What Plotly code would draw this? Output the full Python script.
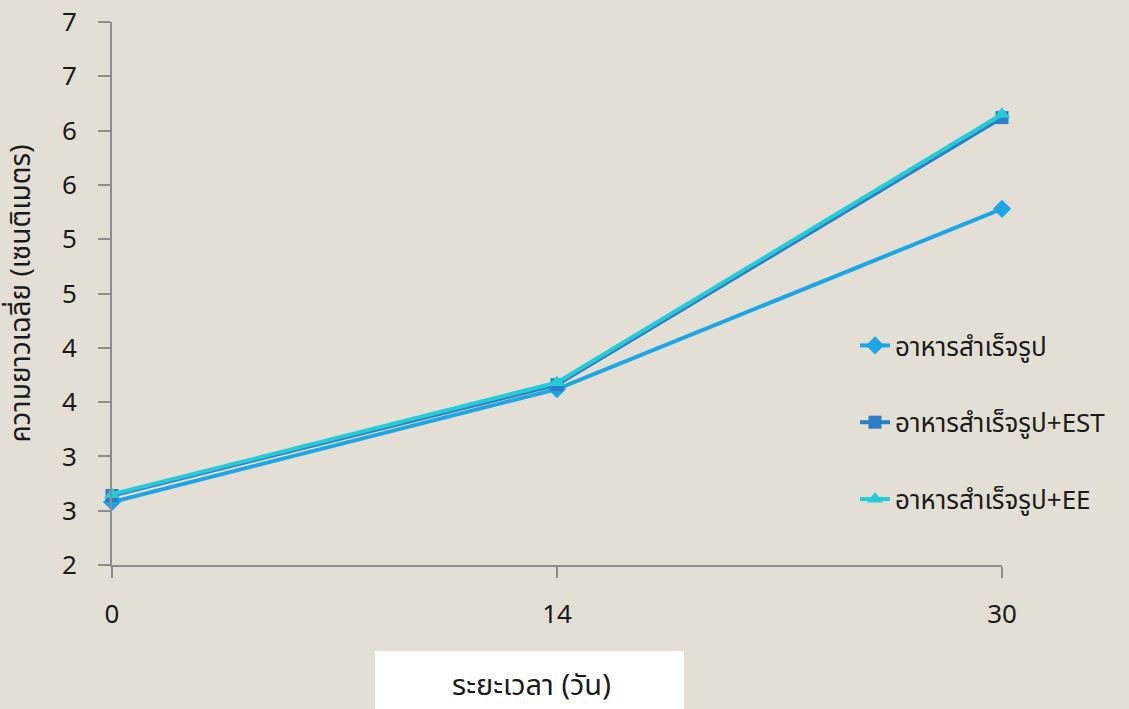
import plotly.graph_objects as go

# Days of rearing and mean length (cm) for each feed
days = ["0", "14", "30"]
feed_ready = [2.58, 3.62, 5.28]
feed_est = [2.64, 3.66, 6.12]
feed_ee = [2.65, 3.68, 6.15]

series_names = ["อาหารสำเร็จรูป", "อาหารสำเร็จรูป+EST", "อาหารสำเร็จรูป+EE"]
series_values = [feed_ready, feed_est, feed_ee]
series_colors = ["#1DA6E6", "#2A7EC6", "#26CBD8"]
series_symbols = ["diamond", "square", "triangle-up"]
series_sizes = [14, 13, 14]

y_ticks = [2, 2.5, 3, 3.5, 4, 4.5, 5, 5.5, 6, 6.5, 7]
y_ticklabels = ["2", "3", "3", "4", "4", "5", "5", "6", "6", "7", "7"]

FONT = "Noto Sans Thai, Tahoma, Noto Sans, sans-serif"
BG = "#E4DFD4"
INK = "#1a1a1a"

fig = go.Figure()
x_pos = list(range(len(days)))
for i, (name, vals) in enumerate(zip(series_names, series_values)):
    fig.add_trace(go.Scatter(
        x=x_pos, y=vals, name=name, mode="lines+markers",
        line=dict(color=series_colors[i], width=4),
        marker=dict(symbol=series_symbols[i], size=series_sizes[i],
                    color=series_colors[i]),
        cliponaxis=False, legendgroup=f"g{i}",
    ))

# white panel behind the x-axis title
fig.add_shape(type="rect", xref="paper", yref="paper",
              x0=(375 - 112) / 890, x1=(684 - 112) / 890,
              y0=-(712 - 565) / 543, y1=-(651 - 565) / 543,
              fillcolor="white", line=dict(width=0), layer="below")
fig.add_annotation(text="ระยะเวลา (วัน)", xref="paper", yref="paper",
                   x=(531 - 112) / 890, y=-(686 - 565) / 543,
                   xanchor="center", yanchor="middle",
                   showarrow=False, font=dict(size=29, color=INK, family=FONT))

fig.update_layout(
    width=1129, height=709,
    margin=dict(l=112, r=127, t=22, b=144, autoexpand=False),
    paper_bgcolor=BG, plot_bgcolor=BG,
    font=dict(family=FONT, size=26, color=INK),
    showlegend=True,
    legend=dict(x=(855 - 112) / 890, y=(565 - 322) / 543, xanchor="left", yanchor="top",
                bgcolor="rgba(0,0,0,0)", tracegroupgap=40,
                font=dict(size=26, family=FONT, color=INK)),
    xaxis=dict(range=[0, 2], tickvals=x_pos, ticktext=days, automargin=False,
               showgrid=False, zeroline=False, showline=True,
               linecolor="#8c8c8c", linewidth=2,
               ticks="outside", ticklen=11, tickwidth=2, tickcolor="#8c8c8c",
               ticklabelstandoff=14, tickfont=dict(size=26)),
    yaxis=dict(range=[2, 7], tickvals=y_ticks, ticktext=y_ticklabels, automargin=False,
               showgrid=False, zeroline=False, showline=True,
               linecolor="#8c8c8c", linewidth=2,
               ticks="outside", ticklen=12, tickwidth=2, tickcolor="#8c8c8c",
               ticklabelstandoff=16, tickfont=dict(size=26),
               title=dict(text="ความยาวเฉลี่ย (เซนติเมตร)", standoff=26,
                          font=dict(size=28, family=FONT))),
)

fig.write_html("out.html")
